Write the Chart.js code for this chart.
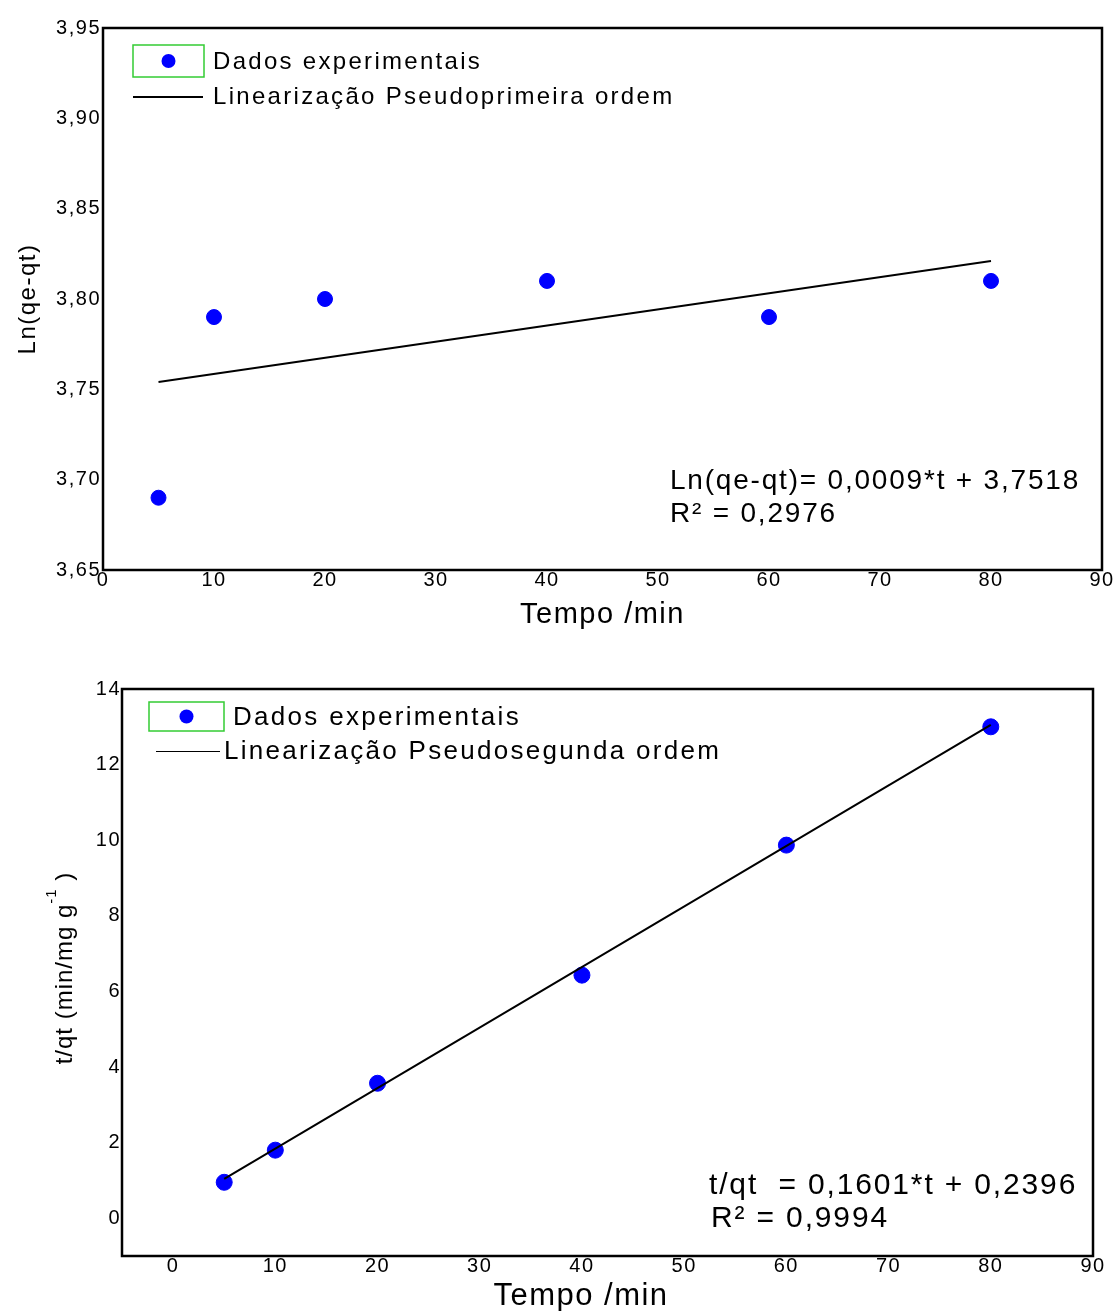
<!DOCTYPE html>
<html>
<head>
<meta charset="utf-8">
<script src="https://cdn.jsdelivr.net/npm/chart.js@4"></script>
<style>
  body { margin: 0; background: #fff; }
  canvas { position: absolute; left: 0; }
  #c1 { top: 0; }
  #c2 { top: 645px; }
</style>
</head>
<body>
<canvas id="c1" width="1118" height="645"></canvas>
<canvas id="c2" width="1118" height="666"></canvas>
<script>
// data
const tempo = [5, 10, 20, 40, 60, 80];
const lnQeQt = [3.69, 3.79, 3.80, 3.81, 3.79, 3.81];
const tQt = [0.95, 1.8, 3.57, 6.43, 9.87, 13.0];

// fitted lines (end points)
const fitT = [5, 80];
const fitLn = [3.754, 3.821];
const fitTQt = [1.04, 13.05];

// ticks
const xTicks1 = [0, 10, 20, 30, 40, 50, 60, 70, 80, 90];
const yTicks1 = [3.65, 3.70, 3.75, 3.80, 3.85, 3.90, 3.95];
const xTicks2 = [0, 10, 20, 30, 40, 50, 60, 70, 80, 90];
const yTicks2 = [0, 2, 4, 6, 8, 10, 12, 14];

const eq1 = ["Ln(qe-qt)= 0,0009*t + 3,7518", "R\u00b2 = 0,2976"];
const eq2 = ["t/qt  = 0,1601*t + 0,2396", "R\u00b2 = 0,9994"];

const FONT = "Arial, 'Liberation Sans', sans-serif";

function pts(xs, ys) {
  return xs.map((x, i) => ({ x: x, y: ys[i] }));
}

// frame, legend, equation and extra titles
const extras = {
  id: "extras",
  beforeUpdate(chart) {
    chart.ctx.letterSpacing = "1.5px";
  },
  beforeDraw(chart) {
    chart.ctx.letterSpacing = "1.5px";
  },
  afterDraw(chart, args, o) {
    const ctx = chart.ctx;
    const a = chart.chartArea;
    ctx.save();
    // box around plot
    ctx.strokeStyle = "#000";
    ctx.lineWidth = 2.5;
    ctx.strokeRect(a.left, a.top, a.right - a.left, a.bottom - a.top);

    // legend
    const L = o.legend;
    const sets = chart.data.datasets;
    const pointSet = sets.find((d) => !d.showLine);
    const lineSet = sets.find((d) => d.showLine);
    ctx.strokeStyle = "#33cc33";
    ctx.lineWidth = 1.5;
    ctx.strokeRect(a.left + L.boxX, a.top + L.boxY, L.boxW, L.boxH);
    ctx.fillStyle = "#0000ff";
    ctx.beginPath();
    ctx.arc(a.left + L.boxX + L.boxW / 2, a.top + L.boxY + L.boxH / 2, 7, 0, Math.PI * 2);
    ctx.fill();
    ctx.strokeStyle = "#000";
    ctx.lineWidth = L.lineW;
    ctx.beginPath();
    ctx.moveTo(a.left + L.lineX1, a.top + L.lineY);
    ctx.lineTo(a.left + L.lineX2, a.top + L.lineY);
    ctx.stroke();
    ctx.fillStyle = "#000";
    ctx.font = L.size + "px " + FONT;
    ctx.letterSpacing = L.spacing + "px";
    ctx.textBaseline = "middle";
    ctx.textAlign = "left";
    ctx.fillText(pointSet.label, a.left + L.text1X, a.top + L.boxY + L.boxH / 2 + 1);
    ctx.fillText(lineSet.label, a.left + L.text2X, a.top + L.lineY);

    // equation
    const E = o.eq;
    ctx.font = E.size + "px " + FONT;
    ctx.letterSpacing = E.spacing + "px";
    E.lines.forEach((s, i) => {
      ctx.fillText(s, E.x + (i ? E.dx2 : 0), E.y + i * 33);
    });

    // x title drawn off-centre
    if (o.xTitle) {
      const t = o.xTitle;
      ctx.font = t.size + "px " + FONT;
      ctx.letterSpacing = "1.5px";
      ctx.textAlign = "center";
      ctx.fillText(t.text, t.x, t.y);
      ctx.textAlign = "left";
    }

    // y title with superscript
    if (o.yTitle) {
      const t = o.yTitle;
      ctx.translate(t.x, t.y);
      ctx.rotate(-Math.PI / 2);
      ctx.letterSpacing = "1px";
      const big = "24px " + FONT, small = "15px " + FONT;
      ctx.font = big;
      const w1 = ctx.measureText(t.main).width;
      const w3 = ctx.measureText(t.end).width;
      ctx.font = small;
      const w2 = ctx.measureText(t.sup).width;
      let x = -(w1 + w2 + w3) / 2;
      ctx.font = big;
      ctx.fillText(t.main, x, 0);
      x += w1;
      ctx.font = small;
      ctx.fillText(t.sup, x, -13);
      x += w2;
      ctx.font = big;
      ctx.fillText(t.end, x, 0);
    }
    ctx.restore();
  },
};

function setTicks(list) {
  return (scale) => {
    scale.ticks = list.map((v) => ({ value: v }));
  };
}

// ---- Chart 1: pseudo primeira ordem ----
new Chart(document.getElementById("c1"), {
  type: "scatter",
  data: {
    datasets: [
      {
        label: "Lineariza\u00e7\u00e3o Pseudoprimeira ordem",
        data: pts(fitT, fitLn),
        showLine: true,
        borderColor: "#000",
        borderWidth: 2,
        pointRadius: 0,
      },
      {
        label: "Dados experimentais",
        data: pts(tempo, lnQeQt),
        showLine: false,
        backgroundColor: "#0000ff",
        borderColor: "#0000ff",
        pointRadius: 7.5,
      },
    ],
  },
  options: {
    responsive: false,
    animation: false,
    devicePixelRatio: 1,
    layout: { padding: { top: 28, right: 16, left: 0, bottom: 0 } },
    plugins: {
      legend: { display: false },
      tooltip: { enabled: false },
      extras: {
        legend: {
          boxX: 30, boxY: 17, boxW: 71, boxH: 32,
          lineX1: 30, lineX2: 100, lineY: 69, lineW: 2,
          text1X: 110, text2X: 110, size: 24, spacing: 2.3,
        },
        eq: { lines: eq1, x: 670, y: 481, dx2: 0, size: 28, spacing: 1.8 },
      },
    },
    scales: {
      x: {
        type: "linear",
        min: 0,
        max: 90,
        grid: { display: false, drawTicks: false },
        border: { display: false },
        afterBuildTicks: setTicks(xTicks1),
        afterFit: (s) => { s.height = 75; },
        ticks: { color: "#000", padding: 0, maxRotation: 0, font: { family: FONT, size: 20, lineHeight: 1 } },
        title: {
          display: true,
          text: "Tempo /min",
          color: "#000",
          font: { family: FONT, size: 29, lineHeight: 1 },
          padding: { bottom: 15.5 },
        },
      },
      y: {
        min: 3.65,
        max: 3.95,
        grid: { display: false, drawTicks: false },
        border: { display: false },
        afterBuildTicks: setTicks(yTicks1),
        afterFit: (s) => { s.width = 103; },
        ticks: {
          color: "#000",
          padding: 2,
          font: { family: FONT, size: 20 },
          callback: (v) => v.toFixed(2).replace(".", ","),
        },
        title: {
          display: true,
          text: "Ln(qe-qt)",
          color: "#000",
          font: { family: FONT, size: 24, lineHeight: 1 },
          padding: { top: 16 },
        },
      },
    },
  },
  plugins: [extras],
});

// ---- Chart 2: pseudo segunda ordem ----
new Chart(document.getElementById("c2"), {
  type: "scatter",
  data: {
    datasets: [
      {
        label: "Lineariza\u00e7\u00e3o Pseudosegunda ordem",
        data: pts(fitT, fitTQt),
        showLine: true,
        borderColor: "#000",
        borderWidth: 2,
        pointRadius: 0,
      },
      {
        label: "Dados experimentais",
        data: pts(tempo, tQt),
        showLine: false,
        backgroundColor: "#0000ff",
        borderColor: "#0000ff",
        pointRadius: 8,
      },
    ],
  },
  options: {
    responsive: false,
    animation: false,
    devicePixelRatio: 1,
    layout: { padding: { top: 44, right: 25, left: 0, bottom: 0 } },
    plugins: {
      legend: { display: false },
      tooltip: { enabled: false },
      extras: {
        legend: {
          boxX: 27, boxY: 13, boxW: 75, boxH: 29,
          lineX1: 34, lineX2: 98, lineY: 62.5, lineW: 1,
          text1X: 111, text2X: 102, size: 26, spacing: 2.3,
        },
        eq: { lines: eq2, x: 709, y: 541, dx2: 2, size: 30, spacing: 1.85 },
        xTitle: { text: "Tempo /min", x: 581, y: 651, size: 31 },
        yTitle: { x: 65, y: 323, main: "t/qt (min/mg g", sup: "-1", end: " )" },
      },
    },
    scales: {
      x: {
        type: "linear",
        min: -5,
        max: 90,
        grid: { display: false, drawTicks: false },
        border: { display: false },
        afterBuildTicks: setTicks(xTicks2),
        afterFit: (s) => { s.height = 55; },
        ticks: { color: "#000", padding: 0, maxRotation: 0, font: { family: FONT, size: 20, lineHeight: 1 } },
        title: { display: false },
      },
      y: {
        min: -1,
        max: 14,
        grid: { display: false, drawTicks: false },
        border: { display: false },
        afterBuildTicks: setTicks(yTicks2),
        afterFit: (s) => { s.width = 122; },
        ticks: { color: "#000", padding: 1, font: { family: FONT, size: 20 } },
        title: { display: false },
      },
    },
  },
  plugins: [extras],
});
</script>
</body>
</html>
